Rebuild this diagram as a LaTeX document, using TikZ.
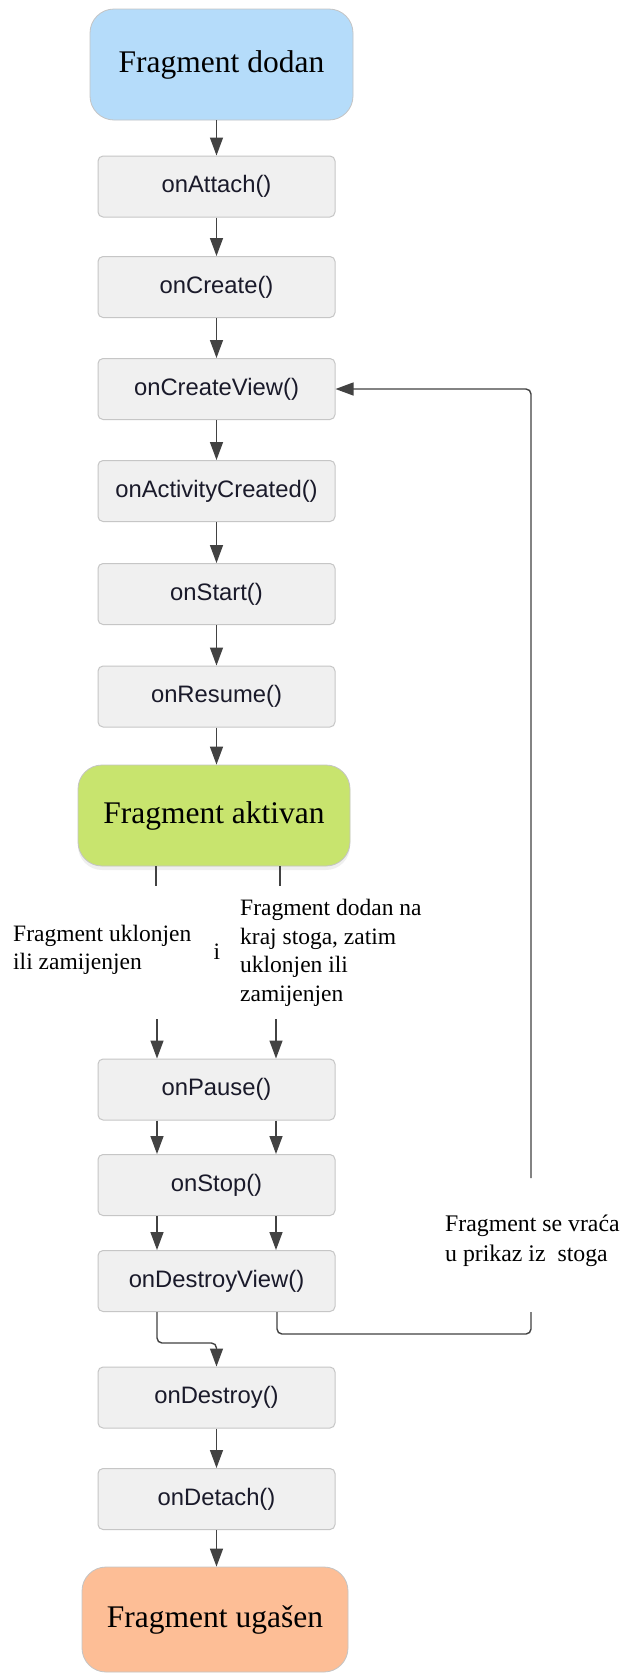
\documentclass[tikz,border=0pt]{standalone}
\usepackage{fontspec}
\usetikzlibrary{arrows.meta,shadows}
\newfontfamily\serfam{Liberation Serif}
\newfontfamily\sansfam{Liberation Sans}
\newcommand\bxfont{\sansfam\fontsize{23.8}{28}\selectfont}
\newcommand\ttlfont{\serfam\fontsize{31.5}{36}\selectfont}
\newcommand\lbfont{\serfam\fontsize{23.5}{28.5}\selectfont}
\newcommand\lbbfont{\serfam\fontsize{23.8}{30}\selectfont}
\definecolor{boxfill}{HTML}{F0F0F0}
\definecolor{boxborder}{HTML}{C6C6C6}
\definecolor{connc}{HTML}{424242}
\definecolor{textc}{HTML}{1A1A2A}
\definecolor{bluefill}{HTML}{B5DCFA}
\definecolor{greenfill}{HTML}{C8E46E}
\definecolor{peachfill}{HTML}{FDBE96}
\definecolor{ttlborder}{HTML}{C4C4C4}
\tikzset{
  fbox/.style={draw=boxborder, fill=boxfill, rounded corners=5pt, minimum width=237pt,
    minimum height=61pt, line width=1pt, font=\bxfont, text=textc, inner sep=0pt},
  ttl/.style={draw=ttlborder, rounded corners=24pt, line width=0.8pt, font=\ttlfont,
    inner sep=0pt, text=black},
  conn/.style={draw=connc, line width=1.4pt, -{Triangle[length=18pt,width=13pt]}},
  plainc/.style={draw=connc, line width=1.4pt},
  lbl/.style={font=\lbfont, align=left, inner sep=0pt, text=black},
}
\begin{document}
\begin{tikzpicture}[x=1pt,y=-1pt]
\fill[white] (0,0) rectangle (624,1674);
\useasboundingbox (0,0) rectangle (624,1674);

% title nodes
\node[ttl, fill=bluefill, minimum width=263pt, minimum height=111pt] (dodan) at (221.5,64.5) {Fragment dodan};
\node[ttl, fill=greenfill, minimum width=272pt, minimum height=101pt,
  drop shadow={shadow xshift=0pt, shadow yshift=-4pt, opacity=0.12}] (aktivan) at (214,815.5) {Fragment aktivan};
\node[ttl, fill=peachfill, minimum width=266pt, minimum height=105pt] (ugasen) at (215,1619.5) {Fragment ugašen};

% method boxes
\node[fbox] (onAttach) at (216.5,186.5) {onAttach()};
\node[fbox] (onCreate) at (216.5,287) {onCreate()};
\node[fbox] (onCreateView) at (216.5,389) {onCreateView()};
\node[fbox] (onActivityCreated) at (216.5,491) {onActivityCreated()};
\node[fbox] (onStart) at (216.5,594) {onStart()};
\node[fbox] (onResume) at (216.5,696.5) {onResume()};
\node[fbox] (onPause) at (216.5,1089.5) {onPause()};
\node[fbox] (onStop) at (216.5,1185) {onStop()};
\node[fbox] (onDestroyView) at (216.5,1281) {onDestroyView()};
\node[fbox] (onDestroy) at (216.5,1397.5) {onDestroy()};
\node[fbox] (onDetach) at (216.5,1499) {onDetach()};

% labels
\node[lbl, anchor=west] (lblL) at (13,950) {Fragment uklonjen\\ili zamijenjen};
\node[lbl] (lblI) at (217,952) {i};
\node[lbl, anchor=west] (lblR) at (240,953) {Fragment dodan na\\kraj stoga, zatim\\uklonjen ili\\zamijenjen};
\node[lbl, font=\lbbfont, anchor=west] (lblBack) at (445,1241) {Fragment se vraća\\u prikaz iz\ \ stoga};

% main chain
\draw[conn] (onAttach.north |- dodan.south) -- (onAttach.north);
\draw[conn] (onAttach) -- (onCreate);
\draw[conn] (onCreate) -- (onCreateView);
\draw[conn] (onCreateView) -- (onActivityCreated);
\draw[conn] (onActivityCreated) -- (onStart);
\draw[conn] (onStart) -- (onResume);
\draw[conn] (onResume.south) -- (onResume.south |- aktivan.north);

% split below aktivan
\coordinate (sL) at (156,886);
\coordinate (sR) at (280,886);
\draw[plainc] (aktivan.south -| sL) -- (sL);
\draw[plainc] (aktivan.south -| sR) -- (sR);
\coordinate (aL) at (157,1019);
\coordinate (aR) at (276,1019);
\draw[conn] (aL) -- (aL |- onPause.north);
\draw[conn] (aR) -- (aR |- onPause.north);

\draw[conn] ([xshift=-59.5pt]onPause.south) -- ([xshift=-59.5pt]onStop.north);
\draw[conn] ([xshift=59.5pt]onPause.south) -- ([xshift=59.5pt]onStop.north);
\draw[conn] ([xshift=-59.5pt]onStop.south) -- ([xshift=-59.5pt]onDestroyView.north);
\draw[conn] ([xshift=59.5pt]onStop.south) -- ([xshift=59.5pt]onDestroyView.north);

% to onDestroy
\draw[conn, rounded corners=5pt] ([xshift=-59.5pt]onDestroyView.south) -- ++(0,31) -| (onDestroy.north);
\draw[conn] (onDestroy) -- (onDetach);
\draw[conn] (onDetach.south) -- (onDetach.south |- ugasen.north);

% return loop
\coordinate (lcorner) at (531,1334);
\coordinate (lbot) at (531,1312);
\coordinate (ltop) at (531,1178);
\coordinate (ucorner) at (531,389);
\draw[plainc, rounded corners=5pt] ([xshift=60.5pt]onDestroyView.south) |- (lcorner) -- (lbot);
\draw[conn, rounded corners=5pt] (ltop) -- (ucorner) -- (onCreateView.east);
\end{tikzpicture}
\end{document}
